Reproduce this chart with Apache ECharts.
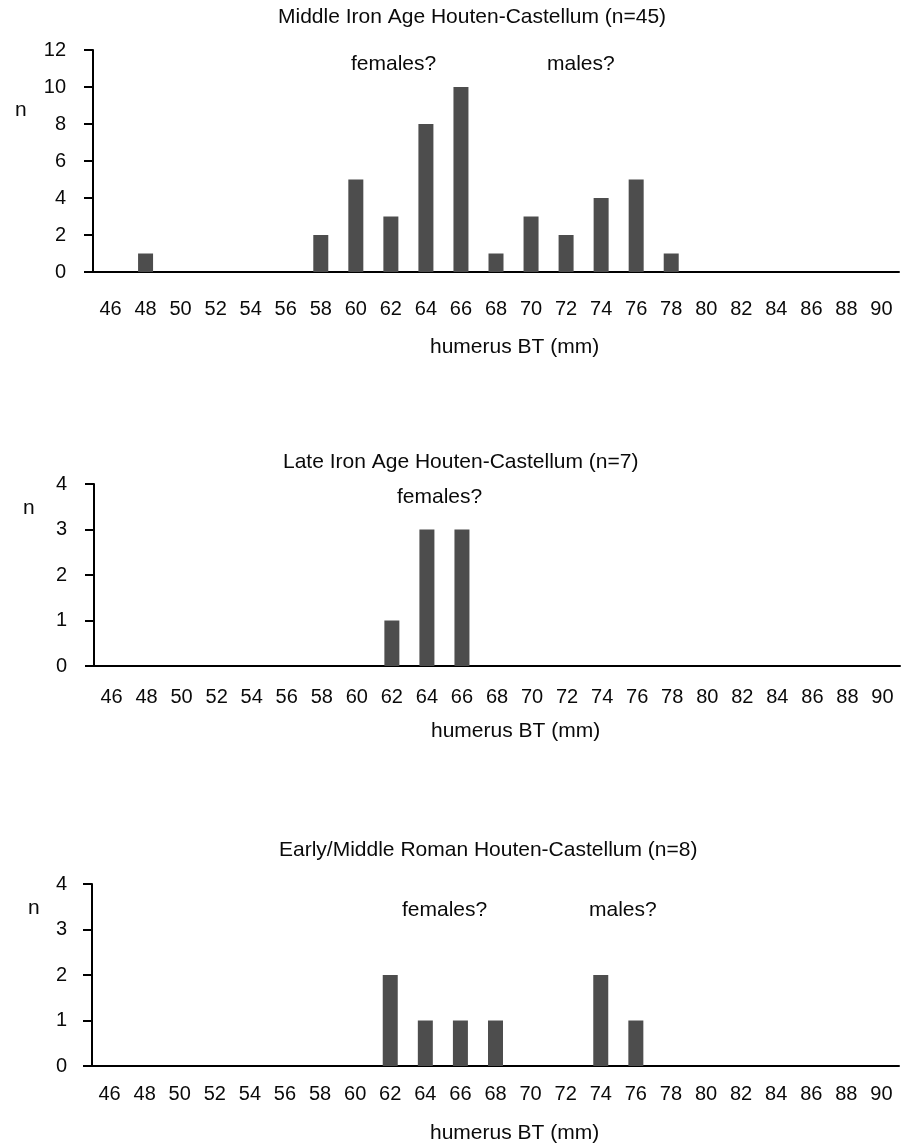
<!DOCTYPE html>
<html><head><meta charset="utf-8">
<script src="https://cdn.jsdelivr.net/npm/echarts@6/dist/echarts.min.js"></script>
<style>html,body{margin:0;padding:0;background:#fff}#c{width:908px;height:1145px}</style>
</head><body><div id="c"></div>
<script>
const categories = ['46','48','50','52','54','56','58','60','62','64','66','68','70','72','74','76','78','80','82','84','86','88','90'];
const middleIronAge = [0,1,0,0,0,0,2,5,3,8,10,1,3,2,4,5,1,0,0,0,0,0,0];
const lateIronAge   = [0,0,0,0,0,0,0,0,1,3,3,0,0,0,0,0,0,0,0,0,0,0,0];
const earlyMiddleRoman = [0,0,0,0,0,0,0,0,2,1,1,1,0,0,2,1,0,0,0,0,0,0,0];
const titles = ['Middle Iron Age Houten-Castellum (n=45)','Late Iron Age Houten-Castellum (n=7)','Early/Middle Roman Houten-Castellum (n=8)'];
const yMax = [12, 4, 4];
const yInterval = [2, 1, 1];
const xName = 'humerus BT (mm)';

const FONT = 'Liberation Sans, Arial, sans-serif';
const TXT = '#0a0a0a';
const chart = echarts.init(document.getElementById('c'));
const grids = [
  {left:93, top:50, width:806, height:222},
  {left:94, top:484, width:806, height:182},
  {left:92, top:884, width:807, height:182}
];
const xMargins = [27, 21, 18];
const yMargins = [27, 27, 25];
const seriesData = [middleIronAge, lateIronAge, earlyMiddleRoman];
const axisLine = {lineStyle:{color:'#000', width:2}};
const axisTick = {lineStyle:{color:'#000', width:2}, length:9};
const option = {
  animation:false,
  textStyle:{fontFamily:FONT},
  grid: grids,
  xAxis: grids.map((g,i)=>({
    type:'category', gridIndex:i, data:categories, boundaryGap:true,
    axisLine, axisTick:{...axisTick, interval:0},
    axisLabel:{interval:0, color:TXT, fontSize:20, fontFamily:FONT, margin:xMargins[i]}
  })),
  yAxis: grids.map((g,i)=>({
    type:'value', gridIndex:i, min:0, max:yMax[i], interval:yInterval[i],
    axisLine:{show:true, ...axisLine}, axisTick:{show:true, ...axisTick},
    splitLine:{show:false},
    axisLabel:{color:TXT, fontSize:20, fontFamily:FONT, margin:yMargins[i]}
  })),
  series: seriesData.map((d,i)=>({
    type:'bar', xAxisIndex:i, yAxisIndex:i, data:d, barWidth:15,
    itemStyle:{color:'#4d4d4d'}
  })),
  graphic: [
    {type:'text', left:278, top:7, style:{text:titles[0], fill:TXT, font:'21px '+FONT}},
    {type:'text', left:283, top:452, style:{text:titles[1], fill:TXT, font:'21px '+FONT}},
    {type:'text', left:279, top:840, style:{text:titles[2], fill:TXT, font:'21px '+FONT}},
    {type:'text', left:15, top:100, style:{text:'n', fill:TXT, font:'21px '+FONT}},
    {type:'text', left:23, top:498, style:{text:'n', fill:TXT, font:'21px '+FONT}},
    {type:'text', left:28, top:898, style:{text:'n', fill:TXT, font:'21px '+FONT}},
    {type:'text', left:351, top:54, style:{text:'females?', fill:TXT, font:'21px '+FONT}},
    {type:'text', left:547, top:54, style:{text:'males?', fill:TXT, font:'21px '+FONT}},
    {type:'text', left:397, top:487, style:{text:'females?', fill:TXT, font:'21px '+FONT}},
    {type:'text', left:402, top:900, style:{text:'females?', fill:TXT, font:'21px '+FONT}},
    {type:'text', left:589, top:900, style:{text:'males?', fill:TXT, font:'21px '+FONT}},
    {type:'text', left:430, top:337, style:{text:xName, fill:TXT, font:'21px '+FONT}},
    {type:'text', left:431, top:721, style:{text:xName, fill:TXT, font:'21px '+FONT}},
    {type:'text', left:430, top:1123, style:{text:xName, fill:TXT, font:'21px '+FONT}}
  ]
};
chart.setOption(option);
</script></body></html>
